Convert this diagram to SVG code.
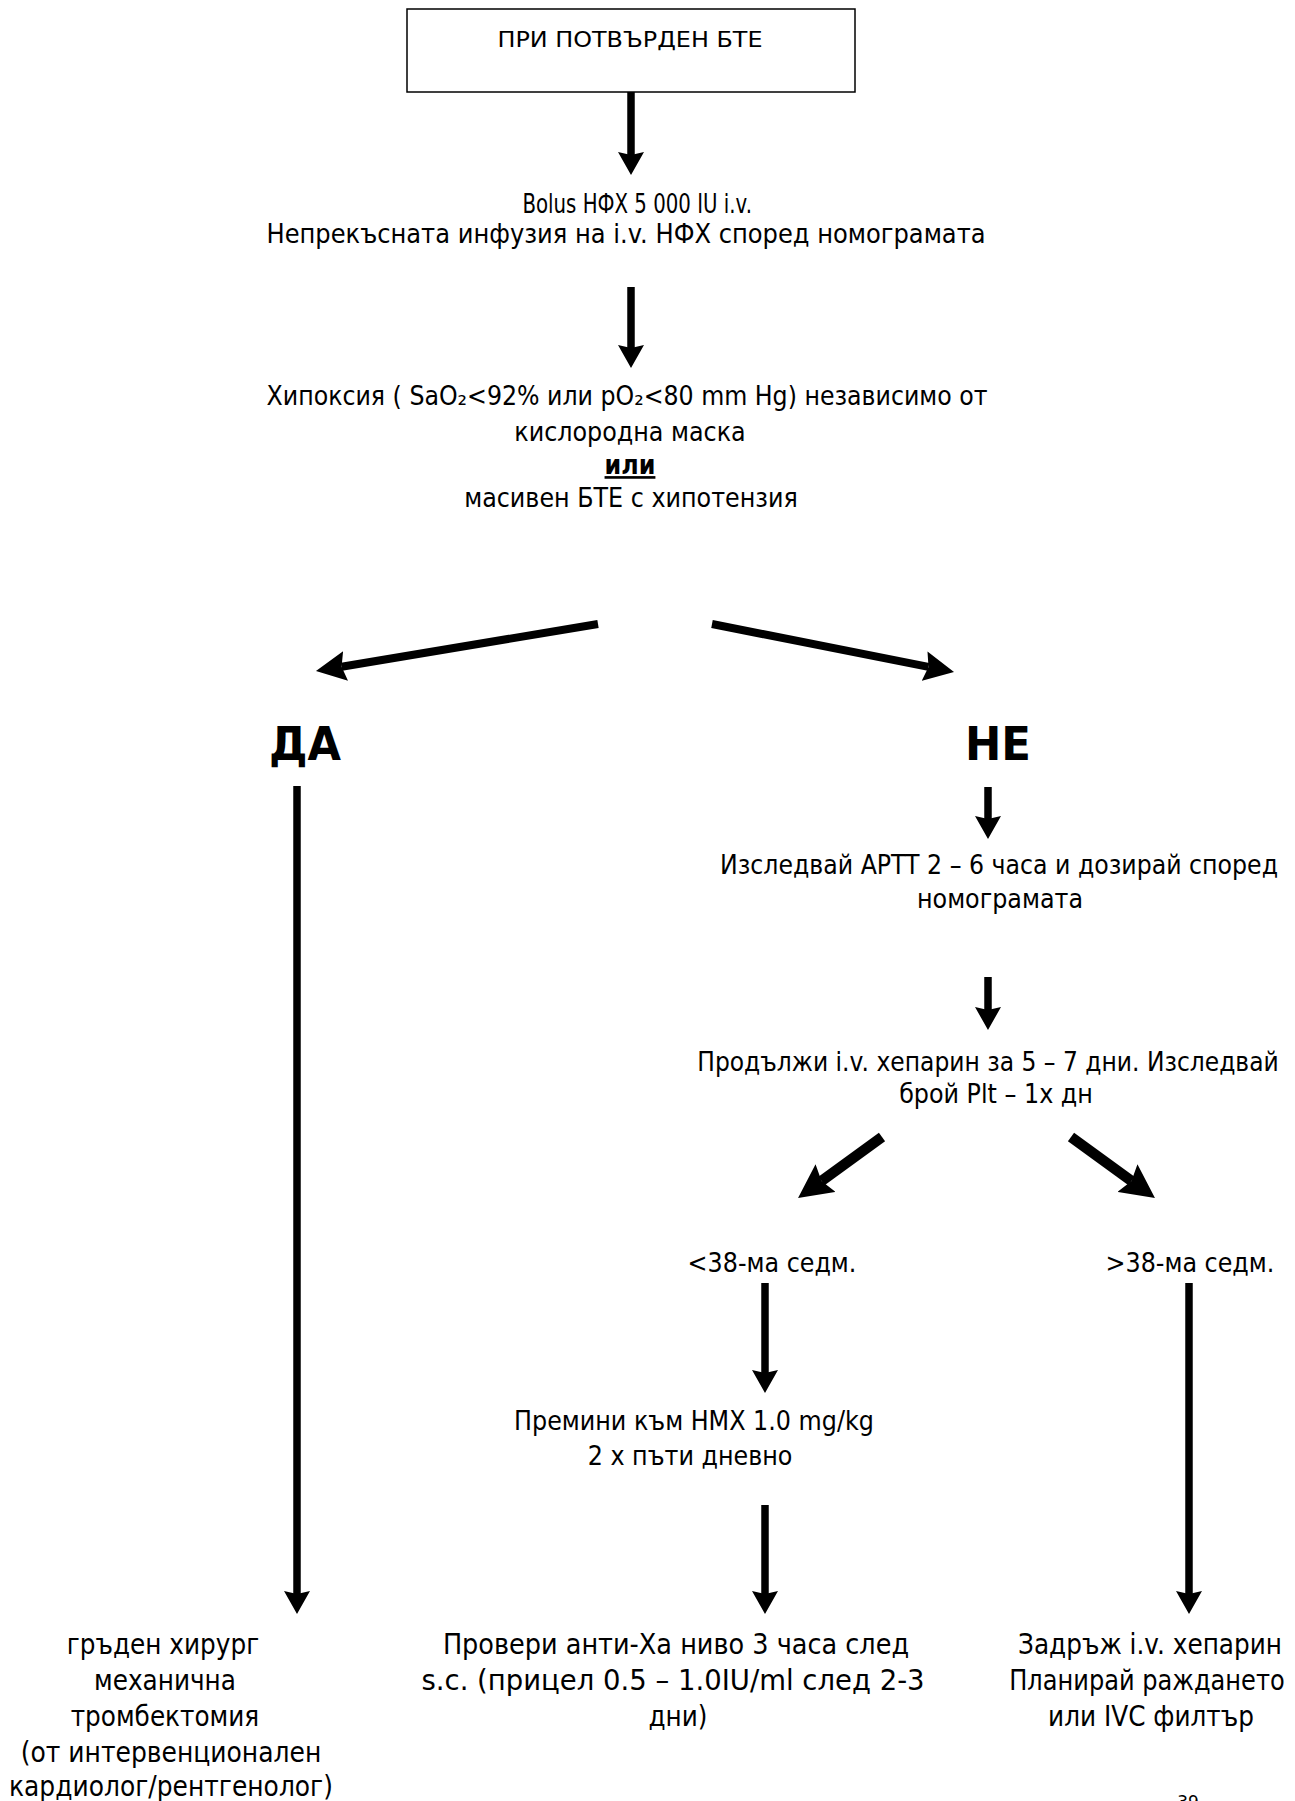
<svg xmlns="http://www.w3.org/2000/svg" width="1295" height="1801" viewBox="0 0 1295 1801">
<style>
text{font-family:"DejaVu Sans","Liberation Sans",sans-serif;fill:#000;text-anchor:middle}
.t{font-size:26.5px}
.tb{font-size:27.5px}
.box{font-size:21px}
.big{font-size:46px;font-weight:bold}
.ul{font-weight:bold;text-decoration:underline}
.c line{stroke:#000;fill:none}
.v{stroke-width:7.5}
.b1{stroke-width:8}
.b2{stroke-width:10.5}
</style>
<defs>
<marker id="ah" markerUnits="userSpaceOnUse" viewBox="0 0 23 26" markerWidth="23" markerHeight="26" refX="3" refY="13" orient="auto"><path d="M0,0 L23,13 L0,26 L3,13 Z" fill="#000"/></marker>
<marker id="ahB" markerUnits="userSpaceOnUse" viewBox="0 0 30 30" markerWidth="30" markerHeight="30" refX="4" refY="15" orient="auto"><path d="M0,0 L30,15 L0,30 L4,15 Z" fill="#000"/></marker>
<marker id="ahM" markerUnits="userSpaceOnUse" viewBox="0 0 34 34" markerWidth="34" markerHeight="34" refX="5" refY="17" orient="auto"><path d="M0,0 L34,17 L0,34 L5,17 Z" fill="#000"/></marker>
</defs>
<rect width="1295" height="1801" fill="#fff"/>

<g id="start">
<rect x="407" y="9" width="448" height="83" fill="#fff" stroke="#000" stroke-width="1.5"/>
<text class="box" x="630" y="47" textLength="265" lengthAdjust="spacingAndGlyphs">ПРИ ПОТВЪРДЕН БТЕ</text>
</g>

<g id="bolus" transform="scale(0.9 1)">
<text class="t" x="708" y="213" textLength="255" lengthAdjust="spacingAndGlyphs">Bolus НФХ 5 000 IU i.v.</text>
<text class="t" x="695.6" y="243" textLength="799" lengthAdjust="spacingAndGlyphs">Непрекъсната инфузия на i.v. НФХ според номограмата</text>
</g>

<g id="hypoxia" transform="scale(0.9 1)">
<text class="t" x="696.7" y="405" textLength="801" lengthAdjust="spacingAndGlyphs">Хипоксия ( SaO₂&lt;92% или pO₂&lt;80 mm Hg) независимо от</text>
<text class="t" x="700" y="441">кислородна маска</text>
<text class="t ul" x="700" y="474">или</text>
<text class="t" x="701.1" y="507">масивен БТЕ с хипотензия</text>
</g>

<g id="yes">
<text class="big" x="305" y="760" textLength="72" lengthAdjust="spacingAndGlyphs">ДА</text>
</g>

<g id="no">
<text class="big" x="998" y="760" textLength="66" lengthAdjust="spacingAndGlyphs">НЕ</text>
</g>

<g id="aptt" transform="scale(0.9 1)">
<text class="t" x="1110" y="874" textLength="620" lengthAdjust="spacingAndGlyphs">Изследвай APTT 2 – 6 часа и дозирай според</text>
<text class="t" x="1111.1" y="908">номограмата</text>
</g>

<g id="continue" transform="scale(0.9 1)">
<text class="t" x="1097.8" y="1071" textLength="646" lengthAdjust="spacingAndGlyphs">Продължи i.v. хепарин за 5 – 7 дни. Изследвай</text>
<text class="t" x="1106.7" y="1103">брой Plt – 1x дн</text>
</g>

<g id="lt38" transform="scale(0.9 1)">
<text class="t" x="857.8" y="1272">&lt;38-ма седм.</text>
</g>

<g id="gt38" transform="scale(0.9 1)">
<text class="t" x="1322.2" y="1272">&gt;38-ма седм.</text>
</g>

<g id="lmwh" transform="scale(0.9 1)">
<text class="t" x="771.1" y="1430">Премини към НМХ 1.0 mg/kg</text>
<text class="t" x="766.7" y="1465">2 х пъти дневно</text>
</g>

<g id="antixa" transform="scale(0.9 1)">
<text class="tb" x="751.1" y="1654" textLength="518" lengthAdjust="spacingAndGlyphs">Провери анти-Xa ниво 3 часа след</text>
<text class="tb" x="747.8" y="1690" textLength="559" lengthAdjust="spacingAndGlyphs">s.c. (прицел 0.5 – 1.0IU/ml след 2-3</text>
<text class="tb" x="753.3" y="1726">дни)</text>
</g>

<g id="hold" transform="scale(0.9 1)">
<text class="tb" x="1277.8" y="1654">Задръж i.v. хепарин</text>
<text class="tb" x="1274.4" y="1690" textLength="306" lengthAdjust="spacingAndGlyphs">Планирай раждането</text>
<text class="tb" x="1278.9" y="1726">или IVC филтър</text>
</g>

<g id="surgery" transform="scale(0.9 1)">
<text class="tb" x="181.1" y="1654">гръден хирург</text>
<text class="tb" x="183.3" y="1690">механична</text>
<text class="tb" x="183.3" y="1726">тромбектомия</text>
<text class="tb" x="190" y="1762" textLength="334" lengthAdjust="spacingAndGlyphs">(от интервенционален</text>
<text class="tb" x="190" y="1796" textLength="360" lengthAdjust="spacingAndGlyphs">кардиолог/рентгенолог)</text>
</g>

<g id="page">
<text x="1188" y="1808" style="font-size:17px">39</text>
</g>

<g id="connectors" class="c">
<line class="v" x1="631" y1="92" x2="631" y2="155" marker-end="url(#ah)"/>
<line class="v" x1="631" y1="287" x2="631" y2="348" marker-end="url(#ah)"/>
<line class="b1" x1="598" y1="624" x2="341.6" y2="666.7" marker-end="url(#ahB)"/>
<line class="b1" x1="712" y1="624" x2="928.5" y2="666.9" marker-end="url(#ahB)"/>
<line class="v" x1="297" y1="786" x2="297" y2="1594" marker-end="url(#ah)"/>
<line class="v" x1="988" y1="787" x2="988" y2="819" marker-end="url(#ah)"/>
<line class="v" x1="988" y1="977" x2="988" y2="1010" marker-end="url(#ah)"/>
<line class="b2" x1="882" y1="1137" x2="821.5" y2="1181" marker-end="url(#ahM)"/>
<line class="b2" x1="1071" y1="1137" x2="1131.5" y2="1181" marker-end="url(#ahM)"/>
<line class="v" x1="765" y1="1283" x2="765" y2="1373" marker-end="url(#ah)"/>
<line class="v" x1="765" y1="1505" x2="765" y2="1594" marker-end="url(#ah)"/>
<line class="v" x1="1189" y1="1283" x2="1189" y2="1594" marker-end="url(#ah)"/>
</g>
</svg>
